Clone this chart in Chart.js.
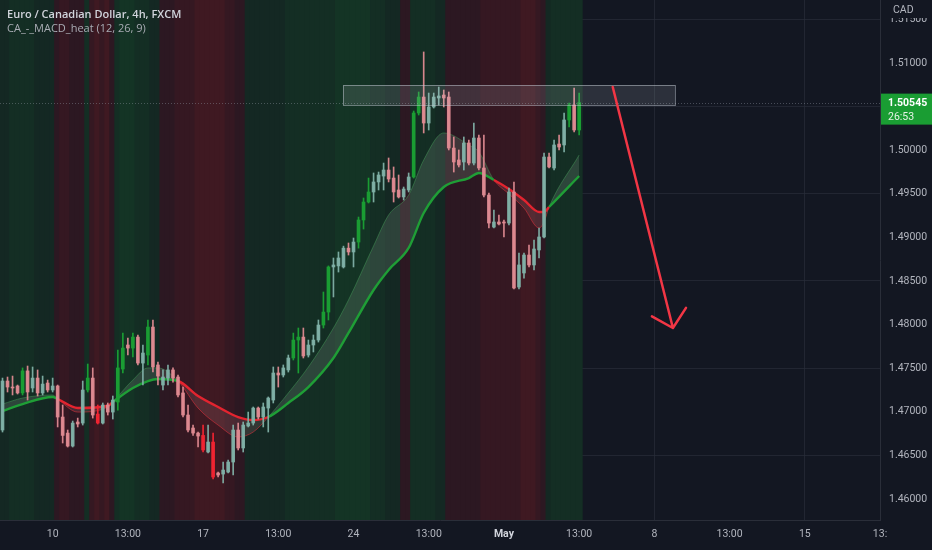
<!DOCTYPE html>
<html>
<head>
<meta charset="utf-8">
<title>EUR/CAD 4h</title>
<script src="https://cdn.jsdelivr.net/npm/chart.js@4.4.1/dist/chart.umd.min.js"></script>
<style>
  html, body { margin: 0; padding: 0; background: #131722; }
  #wrap { position: relative; width: 932px; height: 550px; }
</style>
</head>
<body>
<div id="wrap"><canvas id="chart"></canvas></div>
<script>
// EUR/CAD 4h candles, one entry per bar
const openP = [
  1.46790, 1.47352, 1.47283, 1.47295, 1.47215, 1.47468, 1.47272, 1.47386, 1.47215, 1.47329,
  1.47249, 1.47295, 1.46939, 1.46755, 1.46606, 1.46882, 1.46870, 1.47249, 1.47386, 1.46973,
  1.46870, 1.47077, 1.46996, 1.47111, 1.47490, 1.47765, 1.47730, 1.47856, 1.47558, 1.47650,
  1.47971, 1.47536, 1.47306, 1.47386, 1.47479, 1.47398, 1.47215, 1.46962, 1.46813, 1.46755,
  1.46728, 1.46538, 1.46652, 1.46297, 1.46285, 1.46308, 1.46423, 1.46790, 1.46584, 1.46836,
  1.46870, 1.47042, 1.46939, 1.47042, 1.47134, 1.47444, 1.47421, 1.47479, 1.47616, 1.47822,
  1.47856, 1.47650, 1.47765, 1.47822, 1.47994, 1.48143, 1.48660, 1.48672, 1.48660, 1.48876,
  1.48832, 1.48946, 1.49199, 1.49405, 1.49520, 1.49635, 1.49703, 1.49772, 1.49680, 1.49543,
  1.49463, 1.49543, 1.49692, 1.50426, 1.50609, 1.50311, 1.50495, 1.50598, 1.50632, 1.50609,
  1.50024, 1.49887, 1.49864, 1.50082, 1.49852, 1.50139, 1.49795, 1.49485, 1.49118, 1.49176,
  1.49176, 1.49164, 1.49520, 1.48430, 1.48591, 1.48797, 1.48683, 1.48855, 1.49004, 1.49921,
  1.49795, 1.50070, 1.50059, 1.50346, 1.50518, 1.50231
];
const highP = [
  1.47386, 1.47398, 1.47409, 1.47306, 1.47502, 1.47524, 1.47513, 1.47479, 1.47409, 1.47363,
  1.47386, 1.47306, 1.47077, 1.46790, 1.46893, 1.46927, 1.47352, 1.47547, 1.47502, 1.47077,
  1.47100, 1.47100, 1.47180, 1.47707, 1.47902, 1.47845, 1.47902, 1.47880, 1.47765, 1.48052,
  1.48052, 1.47570, 1.47479, 1.47536, 1.47502, 1.47421, 1.47283, 1.47077, 1.46847, 1.46767,
  1.46847, 1.46847, 1.46755, 1.46308, 1.46423, 1.46446, 1.46847, 1.46870, 1.46882, 1.46996,
  1.47054, 1.47054, 1.47100, 1.47169, 1.47513, 1.47513, 1.47536, 1.47650, 1.47902, 1.47960,
  1.47960, 1.47822, 1.47880, 1.48052, 1.48373, 1.48672, 1.48763, 1.48832, 1.48899, 1.48935,
  1.48992, 1.49233, 1.49451, 1.49680, 1.49738, 1.49749, 1.49852, 1.49910, 1.49807, 1.49715,
  1.49577, 1.49738, 1.50449, 1.50667, 1.51126, 1.50655, 1.50655, 1.50724, 1.50690, 1.50667,
  1.50151, 1.50002, 1.50151, 1.50116, 1.50311, 1.50174, 1.50174, 1.49508, 1.49313, 1.49256,
  1.49199, 1.49566, 1.49635, 1.48820, 1.48820, 1.48912, 1.48969, 1.49107, 1.49967, 1.49967,
  1.50116, 1.50174, 1.50426, 1.50541, 1.50713, 1.50655
];
const lowP = [
  1.46767, 1.47226, 1.47192, 1.47203, 1.47192, 1.47134, 1.47226, 1.47180, 1.47192, 1.47226,
  1.47226, 1.46825, 1.46641, 1.46595, 1.46595, 1.46825, 1.46847, 1.47226, 1.46927, 1.46859,
  1.46859, 1.46962, 1.46916, 1.47019, 1.47444, 1.47650, 1.47627, 1.47536, 1.47306, 1.47536,
  1.47455, 1.47306, 1.47249, 1.47306, 1.47340, 1.47169, 1.46939, 1.46767, 1.46728, 1.46595,
  1.46538, 1.46526, 1.46228, 1.46251, 1.46182, 1.46297, 1.46274, 1.46561, 1.46538, 1.46825,
  1.46847, 1.46916, 1.46825, 1.46767, 1.47100, 1.47283, 1.47398, 1.47455, 1.47593, 1.47444,
  1.47616, 1.47627, 1.47685, 1.47799, 1.47960, 1.48052, 1.48316, 1.48602, 1.48648, 1.48797,
  1.48660, 1.48876, 1.49095, 1.49394, 1.49405, 1.49543, 1.49543, 1.49635, 1.49405, 1.49451,
  1.49428, 1.49520, 1.49680, 1.50403, 1.50197, 1.50231, 1.50483, 1.50518, 1.50495, 1.50002,
  1.49749, 1.49807, 1.49772, 1.49830, 1.49830, 1.49772, 1.49463, 1.49107, 1.49107, 1.49141,
  1.49004, 1.49141, 1.48407, 1.48407, 1.48533, 1.48660, 1.48625, 1.48763, 1.48992, 1.49795,
  1.49772, 1.50002, 1.49979, 1.50266, 1.50208, 1.50174
];
const closeP = [
  1.47352, 1.47283, 1.47272, 1.47215, 1.47468, 1.47226, 1.47386, 1.47215, 1.47317, 1.47249,
  1.47295, 1.46939, 1.46728, 1.46606, 1.46870, 1.46859, 1.47249, 1.47386, 1.46962, 1.46870,
  1.47077, 1.46996, 1.47134, 1.47502, 1.47730, 1.47730, 1.47856, 1.47558, 1.47673, 1.47971,
  1.47513, 1.47409, 1.47398, 1.47479, 1.47386, 1.47192, 1.46962, 1.46790, 1.46755, 1.46721,
  1.46561, 1.46652, 1.46251, 1.46274, 1.46331, 1.46423, 1.46790, 1.46584, 1.46847, 1.46870,
  1.47042, 1.46939, 1.47054, 1.47157, 1.47444, 1.47421, 1.47502, 1.47616, 1.47822, 1.47856,
  1.47639, 1.47765, 1.47822, 1.47994, 1.48143, 1.48660, 1.48683, 1.48763, 1.48876, 1.48832,
  1.48946, 1.49199, 1.49405, 1.49520, 1.49635, 1.49715, 1.49772, 1.49669, 1.49520, 1.49463,
  1.49554, 1.49692, 1.50426, 1.50609, 1.50311, 1.50495, 1.50609, 1.50621, 1.50598, 1.50024,
  1.49864, 1.49830, 1.50082, 1.49852, 1.50139, 1.49795, 1.49485, 1.49164, 1.49176, 1.49153,
  1.49164, 1.49520, 1.48419, 1.48683, 1.48797, 1.48683, 1.48866, 1.49004, 1.49921, 1.49807,
  1.50059, 1.50036, 1.50346, 1.50518, 1.50231, 1.50545
];

// MACD heat per bar: + is green, - is red, size = strength
const heat = [
  1, 1, 2, 2, 2, 2, 2, 1, 1, 1, 1,
  -1, -2, -2, -1, -1, -1,
  2,
  -2, -3, -2, -3, -1,
  2, 3, 3, 3, 2, 2, 2, 1, 1,
  -1, -1, -1, -2, -2, -2, -2, -3, -3, -3, -3, -3, -3, -2, -2, -1, -1,
  1, 1, 1, 1, 1, 1, 1, 1, 2, 2, 2, 2, 2, 2, 2, 2, 2, 2, 3, 3, 3, 3, 3, 3, 3, 2, 2, 2, 1, 1, 1,
  -1, -1,
  2, 2, 2, 2, 2, 1, 1,
  -1, -1, -1, -1, -1, -1,
  -1, -2, -2, -2, -2, -2, -2, -2, -2, -3, -3, -3, -2, -1,
  1, 2, 2, 2, 2, 2, 2
];

// bars drawn in the strong colour
const strongBars = [4, 17, 19, 23, 24, 26, 29, 40, 42, 58, 59, 64, 65, 71, 72, 73, 82, 83, 113, 115];

// the two averages of the indicator, read at these bars
const maIdx = [0, 4, 10, 11, 15, 21, 22, 26, 29, 31, 35, 39, 43, 47, 50, 53, 57, 61, 66, 69,
  74, 77, 81, 84, 88, 93, 95, 98, 101, 104, 107, 108, 109, 115];
const maFast = [1.47088, 1.47157, 1.47192, 1.47146, 1.46996, 1.47054, 1.47111, 1.47364, 1.47502, 1.47502,
  1.47352, 1.47042, 1.46847, 1.46710, 1.46767, 1.46939, 1.47215, 1.47513, 1.47960, 1.48281,
  1.48901, 1.49256, 1.49485, 1.49887, 1.50197, 1.50059, 1.49979, 1.49658, 1.49497, 1.49336,
  1.49107, 1.49176, 1.49348, 1.49944];
const maSlow = [1.47008, 1.47088, 1.47169, 1.47146, 1.47042, 1.47065, 1.47111, 1.47272, 1.47352, 1.47375,
  1.47352, 1.47180, 1.47054, 1.46939, 1.46905, 1.46939, 1.47100, 1.47283, 1.47616, 1.47903,
  1.48396, 1.48626, 1.48878, 1.49279, 1.49577, 1.49680, 1.49738, 1.49658, 1.49554, 1.49428,
  1.49291, 1.49291, 1.49348, 1.49703];

// time axis
const xTickIdx = [10, 25, 40, 55, 70, 85, 100, 115, 130, 145, 160, 175];
const xTickLabels = ['10', '13:00', '17', '13:00', '24', '13:00', 'May', '13:00', '8', '13:00', '15', '13:'];
const dayTickIdx = [10, 40, 70, 100, 130, 160];
const yTicks = [1.46, 1.465, 1.47, 1.475, 1.48, 1.485, 1.49, 1.495, 1.5, 1.505, 1.51, 1.515];

const lastPrice = 1.50545;
const countdown = '26:53';

// drawn zone and arrow
const zoneX = [67.9, 134.1];
const zoneY = [1.50518, 1.50747];
const arrowX = [121.7, 133.7];
const arrowY = [1.50724, 1.47960];

const xMin = -0.5, xMax = 175;
const yMin = 1.45758, yMax = 1.51722;

const BG = [19, 23, 34];
const BG_CSS = '#131722';
const TEXT = '#b2b5be';
const GRID = 'rgba(42,46,57,0.7)';
const UP = 'rgba(128,176,166,0.95)';
const DOWN = 'rgba(222,138,145,0.95)';
const UP_STRONG = '#1a9d33';
const DOWN_STRONG = '#ef2431';
const MA_GREEN = '#1f9e36';
const MA_RED = '#e3242f';

const bars = openP.map((_, i) => i);
const candleColor = bars.map(i => {
  const strong = strongBars.includes(i);
  if (closeP[i] >= openP[i]) return strong ? UP_STRONG : UP;
  return strong ? DOWN_STRONG : DOWN;
});
// stripes are mixed with the background so neighbours can overlap without seams
const mix = (rgb, a) => 'rgb(' + rgb.map((c, k) => Math.round(BG[k] + (c - BG[k]) * a)).join(',') + ')';
const heatColor = heat.map(h => {
  const a = 0.08 + 0.05 * Math.abs(h);
  return h >= 0 ? mix([25, 150, 45], a) : mix([210, 30, 35], a);
});

// fast above slow on this segment?
const bullish = (k0, k1) => (maFast[k0] + maFast[k1]) >= (maSlow[k0] + maSlow[k1]);
const tickLabel = v => {
  const k = xTickIdx.indexOf(v);
  return k < 0 ? '' : xTickLabels[k];
};

const overlay = {
  id: 'overlay',
  afterDatasetsDraw(chart) {
    const { ctx, chartArea: a, scales: { x, y } } = chart;
    ctx.save();
    ctx.beginPath();
    ctx.rect(a.left, a.top, a.right - a.left, a.bottom - a.top);
    ctx.clip();

    // last price line
    const py = Math.round(y.getPixelForValue(lastPrice)) + 0.5;
    ctx.setLineDash([1, 2]);
    ctx.strokeStyle = 'rgba(150,158,170,0.4)';
    ctx.lineWidth = 1;
    ctx.beginPath();
    ctx.moveTo(a.left, py);
    ctx.lineTo(a.right, py);
    ctx.stroke();
    ctx.setLineDash([]);

    // resistance zone
    const zx0 = x.getPixelForValue(zoneX[0]);
    const zx1 = x.getPixelForValue(zoneX[1]);
    const zy0 = y.getPixelForValue(zoneY[1]);
    const zy1 = y.getPixelForValue(zoneY[0]);
    ctx.fillStyle = 'rgba(200,206,216,0.14)';
    ctx.fillRect(zx0, zy0, zx1 - zx0, zy1 - zy0);
    ctx.strokeStyle = 'rgba(200,206,216,0.5)';
    ctx.strokeRect(zx0 + 0.5, zy0 + 0.5, zx1 - zx0, zy1 - zy0);

    // arrow
    const ax0 = x.getPixelForValue(arrowX[0]), ay0 = y.getPixelForValue(arrowY[0]);
    const ax1 = x.getPixelForValue(arrowX[1]), ay1 = y.getPixelForValue(arrowY[1]);
    const ang = Math.atan2(ay0 - ay1, ax0 - ax1);
    const head = 24, spread = 47 * Math.PI / 180;
    ctx.strokeStyle = '#f23645';
    ctx.lineWidth = 2.5;
    ctx.lineCap = 'round';
    ctx.lineJoin = 'round';
    ctx.beginPath();
    ctx.moveTo(ax0, ay0);
    ctx.lineTo(ax1, ay1);
    ctx.moveTo(ax1 + head * Math.cos(ang - spread), ay1 + head * Math.sin(ang - spread));
    ctx.lineTo(ax1, ay1);
    ctx.lineTo(ax1 + head * Math.cos(ang + spread), ay1 + head * Math.sin(ang + spread));
    ctx.stroke();
    ctx.restore();
  },
  afterDraw(chart) {
    const { ctx, chartArea: a, scales: { y } } = chart;
    ctx.save();
    // legend texts
    ctx.textBaseline = 'alphabetic';
    ctx.textAlign = 'left';
    ctx.fillStyle = '#d1d4dc';
    ctx.font = '600 11px "Open Sans"';
    ctx.fillText('Euro / Canadian Dollar, 4h, FXCM', 7, 18);
    ctx.fillStyle = '#a9acb4';
    ctx.font = '11px "Open Sans"';
    ctx.fillText('CA_-_MACD_heat (12, 26, 9)', 7, 32);

    // currency on the price scale
    ctx.fillStyle = BG_CSS;
    ctx.fillRect(a.right + 1, 0, chart.width - a.right, 18);
    ctx.fillStyle = TEXT;
    ctx.font = '10.5px Roboto';
    ctx.fillText('CAD', a.right + 13, 13);

    // last price label
    const py = y.getPixelForValue(lastPrice);
    ctx.fillStyle = UP_STRONG;
    ctx.fillRect(a.right + 1, py - 9, chart.width - a.right - 1, 31);
    ctx.fillStyle = '#ffffff';
    ctx.font = 'bold 10.5px Roboto';
    ctx.textBaseline = 'middle';
    ctx.fillText(lastPrice.toFixed(5), a.right + 8, py + 1);
    ctx.font = '10.5px Roboto';
    ctx.fillStyle = '#e6f3e6';
    ctx.fillText(countdown, a.right + 8, py + 15);
    ctx.restore();
  }
};

new Chart(document.getElementById('chart'), {
  type: 'bar',
  data: {
    datasets: [
      {
        type: 'bar',
        label: 'heat',
        data: heat.map((h, i) => ({ x: i, y: [yMin, yMax] })),
        backgroundColor: heatColor,
        barPercentage: 1,
        categoryPercentage: 1,
        inflateAmount: 1,
        grouped: false,
        order: 10
      },
      {
        type: 'line',
        label: 'fast',
        data: maIdx.map((i, k) => ({ x: i, y: maFast[k] })),
        borderWidth: 1,
        pointRadius: 0,
        cubicInterpolationMode: 'monotone',
        segment: {
          borderColor: c => bullish(c.p0DataIndex, c.p1DataIndex) ? 'rgba(70,160,90,0.45)' : 'rgba(225,50,60,0.55)'
        },
        fill: { target: '+1', above: 'rgba(135,160,140,0.22)', below: 'rgba(170,110,115,0.22)' },
        order: 6
      },
      {
        type: 'line',
        label: 'slow',
        data: maIdx.map((i, k) => ({ x: i, y: maSlow[k] })),
        borderWidth: 2.4,
        pointRadius: 0,
        cubicInterpolationMode: 'monotone',
        segment: {
          borderColor: c => bullish(c.p0DataIndex, c.p1DataIndex) ? MA_GREEN : MA_RED
        },
        fill: false,
        order: 5
      },
      {
        type: 'bar',
        label: 'wick',
        data: bars.map(i => ({ x: i, y: [lowP[i], highP[i]] })),
        backgroundColor: candleColor,
        barThickness: 1,
        grouped: false,
        order: 2
      },
      {
        type: 'bar',
        label: 'body',
        data: bars.map(i => ({ x: i, y: [openP[i], closeP[i]] })),
        backgroundColor: candleColor,
        barThickness: 3,
        minBarLength: 1,
        grouped: false,
        order: 1
      }
    ]
  },
  options: {
    responsive: true,
    maintainAspectRatio: false,
    animation: false,
    layout: { padding: 0 },
    plugins: {
      legend: { display: false },
      tooltip: { enabled: false },
      title: { display: false }
    },
    scales: {
      x: {
        type: 'linear',
        min: xMin,
        max: xMax,
        offset: false,
        afterBuildTicks: s => { s.ticks = xTickIdx.map(v => ({ value: v })); },
        afterFit: s => { s.height = 30; s.paddingLeft = 0; s.paddingRight = 0; },
        ticks: {
          autoSkip: false,
          maxRotation: 0,
          padding: 8,
          color: c => (c.tick && tickLabel(c.tick.value) === 'May' ? '#d1d4dc' : TEXT),
          font: c => ({ family: 'Roboto', size: 10.5,
            weight: c.tick && tickLabel(c.tick.value) === 'May' ? 'bold' : 'normal' }),
          callback: v => tickLabel(v)
        },
        grid: {
          offset: false,
          drawTicks: false,
          color: c => (c.tick && dayTickIdx.includes(c.tick.value) ? GRID : 'transparent')
        },
        border: { display: true, color: '#2a2e39' }
      },
      y: {
        type: 'linear',
        position: 'right',
        min: yMin,
        max: yMax,
        afterBuildTicks: s => { s.ticks = yTicks.map(v => ({ value: v })); },
        afterFit: s => { s.width = 52; s.paddingTop = 0; s.paddingBottom = 0; },
        ticks: {
          padding: 9,
          color: TEXT,
          font: { family: 'Roboto', size: 10.5 },
          callback: v => v.toFixed(5)
        },
        grid: {
          drawTicks: false,
          color: c => (c.tick && Math.round(c.tick.value * 1000) % 10 === 5 ? GRID : 'transparent')
        },
        border: { display: true, color: '#2a2e39' }
      }
    }
  },
  plugins: [overlay]
});
</script>
</body>
</html>
